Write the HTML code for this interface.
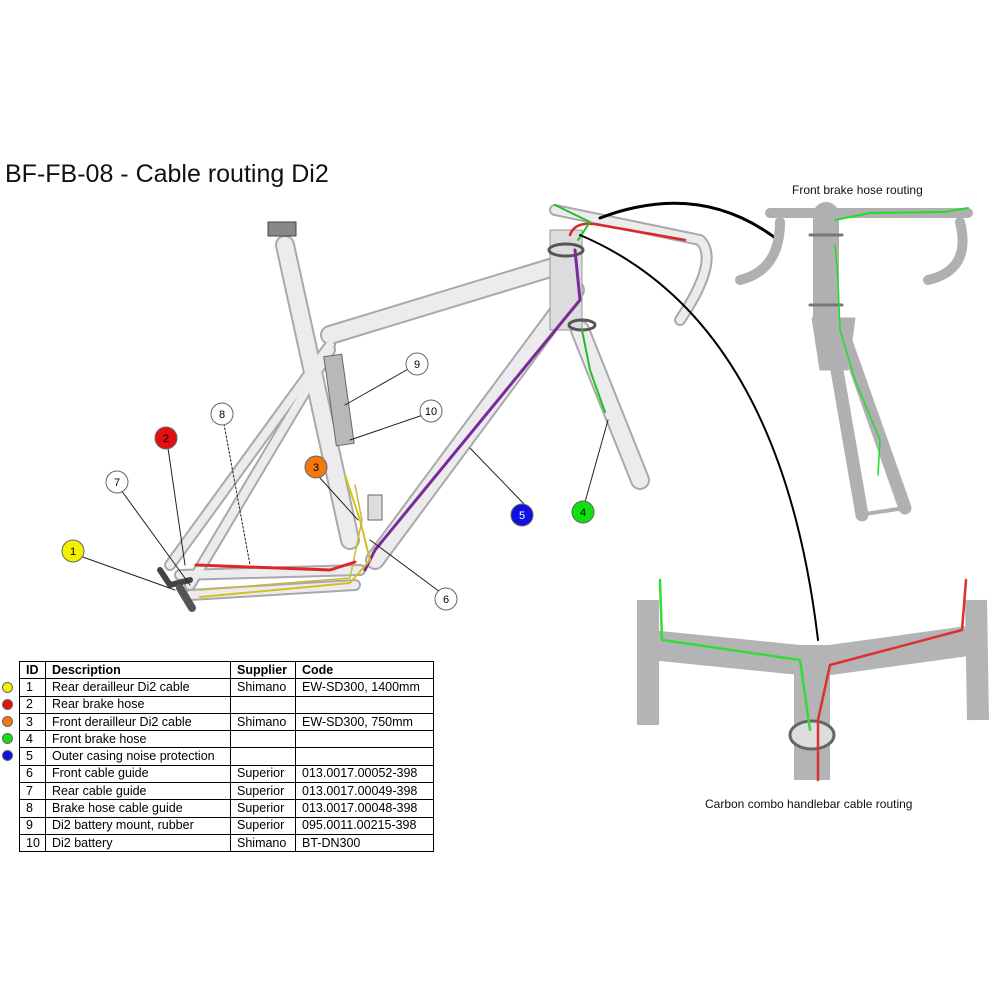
<!DOCTYPE html>
<html><head><meta charset="utf-8"><style>
html,body{margin:0;padding:0;background:#fff;}
body{width:1000px;height:1000px;position:relative;overflow:hidden;font-family:"Liberation Sans",Arial,sans-serif;}
.t{position:absolute;white-space:nowrap;color:#111;}
table{position:absolute;left:19px;top:661px;border-collapse:collapse;font-size:12.5px;}
td{border:1px solid #000;height:16.3px;padding:0 0 0 6px;line-height:15px;}
tr:first-child td{font-weight:bold;}
.dot{position:absolute;left:2px;width:11px;height:11px;border-radius:50%;border:1px solid #666;box-sizing:border-box;}
</style></head><body>
<div class="t" style="left:5px;top:160px;font-size:25px;">BF-FB-08 - Cable routing Di2</div>
<div class="t" style="left:792px;top:183px;font-size:12px;">Front brake hose routing</div>
<div class="t" style="left:705px;top:797px;font-size:12px;">Carbon combo handlebar cable routing</div>

<svg width="1000" height="1000" style="position:absolute;left:0;top:0" viewBox="0 0 1000 1000">
<g fill="none" stroke-linecap="round" stroke-linejoin="round">
<g stroke="#a9a9ab" stroke-width="20">
<path d="M285 245 L350 540"/>
<path d="M330 335 L560 265"/>
<path d="M575 290 L375 560"/>
<path d="M580 330 L640 480"/>
</g>
<g stroke="#a9a9ab" stroke-width="12">
<path d="M360 570 L180 575"/>
<path d="M330 345 L170 565"/>
<path d="M330 350 L190 585"/>
<path d="M355 585 L190 595"/>
<path d="M555 210 L700 240 Q720 260 680 320"/>
</g>
<g stroke="#ececee" stroke-width="16">
<path d="M285 245 L350 540"/>
<path d="M330 335 L560 265"/>
<path d="M575 290 L375 560"/>
<path d="M580 330 L640 480"/>
</g>
<g stroke="#ececee" stroke-width="8">
<path d="M360 570 L180 575"/>
<path d="M330 345 L170 565"/>
<path d="M330 350 L190 585"/>
<path d="M355 585 L190 595"/>
<path d="M555 210 L700 240 Q720 260 680 320"/>
</g>
<rect x="550" y="230" width="32" height="100" fill="#dcdcde" stroke="#999"/>
<ellipse cx="566" cy="250" rx="17" ry="6" stroke="#555" stroke-width="3"/>
<ellipse cx="582" cy="325" rx="13" ry="5" stroke="#555" stroke-width="3"/>
<rect x="330" y="355" width="18" height="90" fill="#b8b8ba" stroke="#666" transform="rotate(-8 339 400)"/>
<rect x="368" y="495" width="14" height="25" fill="#ddd" stroke="#666"/>
<rect x="268" y="222" width="28" height="14" fill="#888" stroke="#444"/>
<path d="M160 570 l10 15 l20 -5" stroke="#444" stroke-width="6"/>
<path d="M180 588 l12 20" stroke="#555" stroke-width="8"/>
<path d="M575 250 L580 300 L375 550 L365 570" stroke="#7a2a99" stroke-width="3"/>
<path d="M345 475 L360 520 L370 560 L350 583 L200 597" stroke="#d4c020" stroke-width="2"/>
<path d="M355 485 L362 520 L350 578 L200 590" stroke="#c8b83a" stroke-width="1.5"/>
<path d="M196 565 L330 570 L355 562" stroke="#d8282a" stroke-width="3"/>
<path d="M570 235 Q575 220 600 225 L640 232 L685 240" stroke="#d8282a" stroke-width="2.5"/>
<path d="M555 205 L590 222 L578 240" stroke="#22c022" stroke-width="2"/>
<path d="M582 330 L590 370 L605 412" stroke="#22c022" stroke-width="2"/>
<path d="M600 218 Q700 180 778 240" stroke="#000" stroke-width="3"/>
<path d="M580 235 Q780 320 818 640" stroke="#000" stroke-width="2"/>
<g stroke="#222" stroke-width="1">
<path d="M80 556 L175 590"/>
<path d="M168 448 L185 565"/>
<path d="M121 490 L190 585"/>
<path d="M224 424 L250 565" stroke-dasharray="2 2"/>
<path d="M320 478 L358 520"/>
<path d="M525 505 L470 448"/>
<path d="M585 502 L608 420"/>
<path d="M440 592 L370 540"/>
<path d="M410 368 L345 405"/>
<path d="M423 415 L350 440"/>
</g>
<!-- inset fork -->
<g stroke="#b0b0b2" stroke-width="10">
<path d="M770 213 L968 213"/>
<path d="M780 222 Q780 270 740 280"/>
<path d="M960 222 Q972 270 928 280"/>
<path d="M830 330 L862 515" stroke-width="13"/>
<path d="M842 330 L905 508" stroke-width="13"/>
<path d="M858 515 L905 508" stroke-width="4"/>
</g>
<path d="M826 215 L826 320" stroke="#b0b0b2" stroke-width="26"/>
<path d="M812 318 L855 318 L848 370 L820 370 Z" fill="#b0b0b2" stroke="#b0b0b2"/>
<path d="M810 235 h32 M810 305 h32" stroke="#777" stroke-width="3"/>
<path d="M835 220 L870 213 L945 212 L968 208" stroke="#22dd22" stroke-width="2"/>
<path d="M835 245 L838 280 L840 330 L855 380 L880 440 L878 475" stroke="#22dd22" stroke-width="1.5"/>
<!-- inset handlebar -->
<g stroke="#b4b4b6" stroke-linecap="butt">
<path d="M650 645 L800 660 L830 660 L975 640" stroke-width="30"/>
<path d="M648 600 L648 725" stroke-width="22"/>
<path d="M976 600 L978 720" stroke-width="22"/>
<path d="M812 670 L812 780" stroke-width="36"/>
</g>
<ellipse cx="812" cy="735" rx="22" ry="14" fill="#ddd" stroke="#666" stroke-width="3"/>
<path d="M660 580 L662 640 L800 660 L810 730" stroke="#33dd33" stroke-width="2.5"/>
<path d="M966 580 L962 630 L830 665 L818 720 L818 780" stroke="#dd3030" stroke-width="2.5"/>
</g>
<g font-family="Liberation Sans,Arial,sans-serif" font-size="11" text-anchor="middle">
<circle cx="73" cy="551" r="11" fill="#f4f000" stroke="#666"/><text x="73" y="555">1</text>
<circle cx="166" cy="438" r="11" fill="#e41010" stroke="#666"/><text x="166" y="442">2</text>
<circle cx="316" cy="467" r="11" fill="#f07a10" stroke="#666"/><text x="316" y="471">3</text>
<circle cx="583" cy="512" r="11" fill="#10e010" stroke="#666"/><text x="583" y="516">4</text>
<circle cx="522" cy="515" r="11" fill="#1010e0" stroke="#666"/><text x="522" y="519" fill="#fff">5</text>
<circle cx="446" cy="599" r="11" fill="#fff" stroke="#666"/><text x="446" y="603">6</text>
<circle cx="117" cy="482" r="11" fill="#fff" stroke="#666"/><text x="117" y="486">7</text>
<circle cx="222" cy="414" r="11" fill="#fff" stroke="#666"/><text x="222" y="418">8</text>
<circle cx="417" cy="364" r="11" fill="#fff" stroke="#666"/><text x="417" y="368">9</text>
<circle cx="431" cy="411" r="11" fill="#fff" stroke="#666"/><text x="431" y="415">10</text>
</g>
</svg>

<div class="dot" style="top:682px;background:#f4f000"></div>
<div class="dot" style="top:699px;background:#e41010"></div>
<div class="dot" style="top:716px;background:#f07a10"></div>
<div class="dot" style="top:733px;background:#10e010"></div>
<div class="dot" style="top:750px;background:#1010e0"></div>
<table>
<tr><td style="width:19px">ID</td><td style="width:178px">Description</td><td style="width:58px">Supplier</td><td style="width:131px">Code</td></tr>
<tr><td>1</td><td>Rear derailleur Di2 cable</td><td>Shimano</td><td>EW-SD300, 1400mm</td></tr>
<tr><td>2</td><td>Rear brake hose</td><td></td><td></td></tr>
<tr><td>3</td><td>Front derailleur Di2 cable</td><td>Shimano</td><td>EW-SD300, 750mm</td></tr>
<tr><td>4</td><td>Front brake hose</td><td></td><td></td></tr>
<tr><td>5</td><td>Outer casing noise protection</td><td></td><td></td></tr>
<tr><td>6</td><td>Front cable guide</td><td>Superior</td><td>013.0017.00052-398</td></tr>
<tr><td>7</td><td>Rear cable guide</td><td>Superior</td><td>013.0017.00049-398</td></tr>
<tr><td>8</td><td>Brake hose cable guide</td><td>Superior</td><td>013.0017.00048-398</td></tr>
<tr><td>9</td><td>Di2 battery mount, rubber</td><td>Superior</td><td>095.0011.00215-398</td></tr>
<tr><td>10</td><td>Di2 battery</td><td>Shimano</td><td>BT-DN300</td></tr>
</table>
</body></html>
